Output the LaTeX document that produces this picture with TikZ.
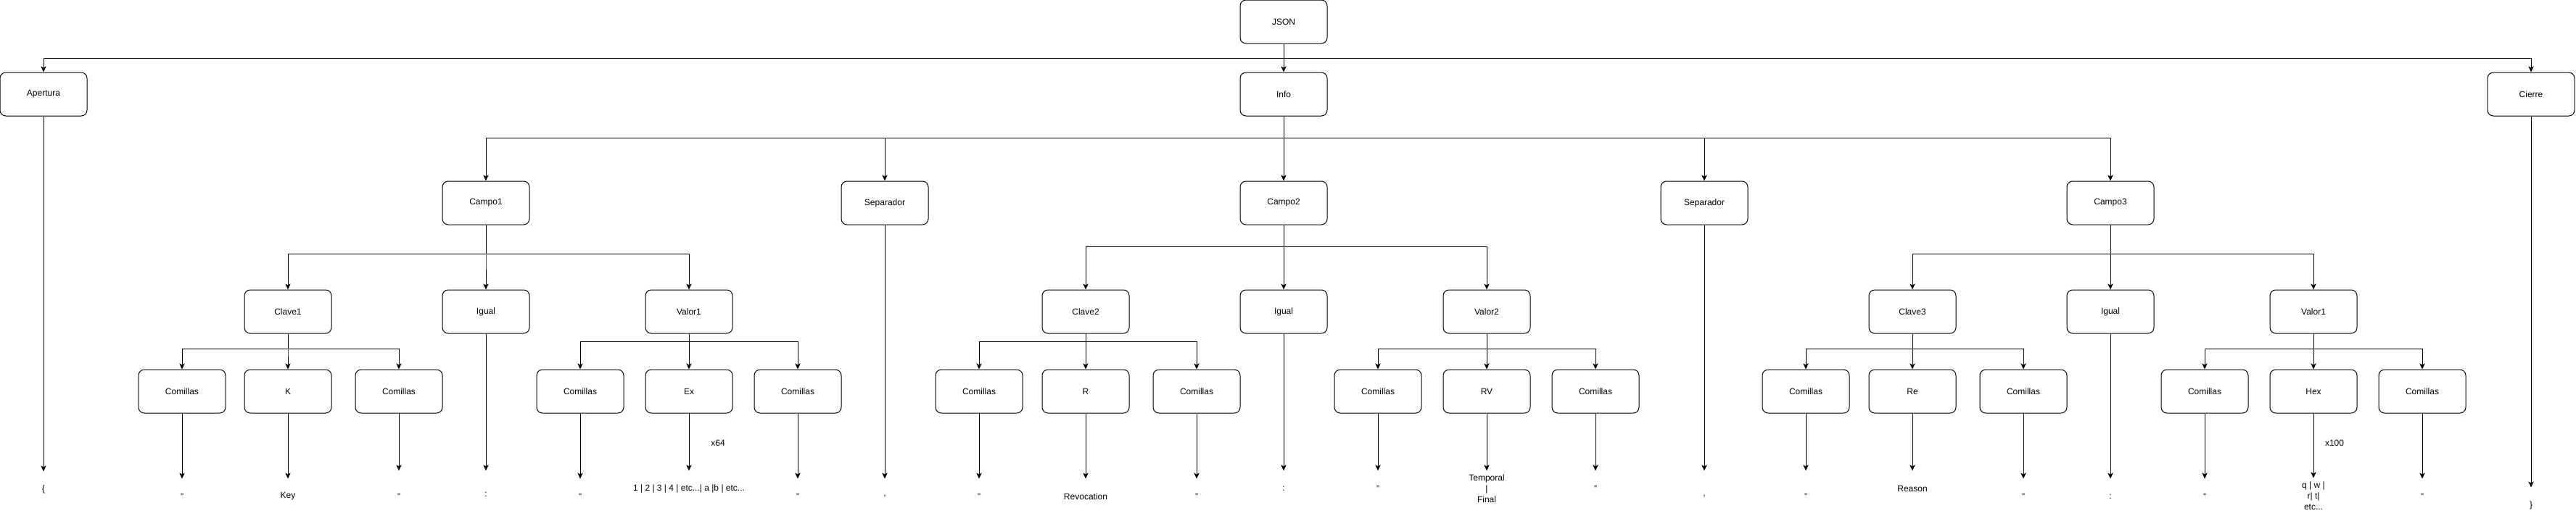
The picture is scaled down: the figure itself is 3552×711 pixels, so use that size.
\documentclass[tikz,border=0pt]{standalone}
\usepackage{fontspec}
\setmainfont{Liberation Sans}
\usetikzlibrary{arrows.meta}

\tikzset{every picture/.style={line width=0.75pt}}
\tikzset{
  caja/.style={draw, rounded corners=6pt, minimum width=90pt, minimum height=45pt, inner sep=0.75pt, font=\fontsize{9}{11.25}\selectfont},
  hoja/.style={minimum height=36pt, inner sep=0.75pt, align=center, font=\fontsize{9}{11.25}\selectfont},
  etiq/.style={inner sep=0.75pt, font=\fontsize{9}{11.25}\selectfont},
  flecha/.style={-{Stealth[length=6pt,width=5.5pt,inset=1.5pt]}},
  antes/.style={shorten >=#1},
}

\begin{document}
\begin{tikzpicture}[x=0.75pt,y=0.75pt,yscale=-1,xscale=1]
\useasboundingbox (0,0) rectangle (3552,711);

%Rounded Rect: raiz y primer nivel
\draw (1770,30) node [caja] (json) {JSON};
\draw (60,130) node [caja] (apertura) {Apertura};
\draw (1770,130) node [caja] (info) {Info};
\draw (3490,130) node [caja] (cierre) {Cierre};

%Rounded Rect: campos y separadores
\draw (670,280) node [caja] (campo1) {Campo1};
\draw (1220,280) node [caja] (sep1) {Separador};
\draw (1770,280) node [caja] (campo2) {Campo2};
\draw (2350,280) node [caja] (sep2) {Separador};
\draw (2910,280) node [caja] (campo3) {Campo3};

%Rounded Rect: clave, igual, valor
\draw (397,430) node [caja] (clave1) {Clave1};
\draw (670,430) node [caja] (igual1) {Igual};
\draw (950,430) node [caja] (valor1) {Valor1};
\draw (1497,430) node [caja] (clave2) {Clave2};
\draw (1770,430) node [caja] (igual2) {Igual};
\draw (2050,430) node [caja] (valor2) {Valor2};
\draw (2637,430) node [caja] (clave3) {Clave3};
\draw (2910,430) node [caja] (igual3) {Igual};
\draw (3190,430) node [caja] (valor3) {Valor1};

%Rounded Rect: ultimo nivel
\draw (251,540) node [caja] (c1a) {Comillas};
\draw (397,540) node [caja] (k1) {K};
\draw (550,540) node [caja] (c1b) {Comillas};
\draw (800,540) node [caja] (v1a) {Comillas};
\draw (950,540) node [caja] (ex1) {Ex};
\draw (1100,540) node [caja] (v1b) {Comillas};
\draw (1350,540) node [caja] (c2a) {Comillas};
\draw (1497,540) node [caja] (r2) {R};
\draw (1650,540) node [caja] (c2b) {Comillas};
\draw (1900,540) node [caja] (v2a) {Comillas};
\draw (2050,540) node [caja] (rv2) {RV};
\draw (2200,540) node [caja] (v2b) {Comillas};
\draw (2490,540) node [caja] (c3a) {Comillas};
\draw (2637,540) node [caja] (re3) {Re};
\draw (2790,540) node [caja] (c3b) {Comillas};
\draw (3040,540) node [caja] (v3a) {Comillas};
\draw (3190,540) node [caja] (hex3) {Hex};
\draw (3340,540) node [caja] (v3b) {Comillas};

% Text Node: hojas
\draw (60,675) node [hoja] (tap) {\{};
\draw (251,685) node [hoja] (tc1a) {"};
\draw (397,685) node [hoja] (tk1) {Key};
\draw (550,685) node [hoja] (tc1b) {"};
\draw (670,682) node [hoja] (tig1) {:};
\draw (800,685) node [hoja] (tv1a) {"};
\draw (950,674) node [hoja] (tex1) {1 | 2 | 3 | 4 | etc...| a |b | etc...};
\draw (1100,685) node [hoja] (tv1b) {"};
\draw (1220,685) node [hoja] (tsep1) {,};
\draw (1350,685) node [hoja] (tc2a) {"};
\draw (1497,685) node [hoja] (tr2) {Revocation};
\draw (1650,685) node [hoja] (tc2b) {"};
\draw (1770,674) node [hoja] (tig2) {:};
\draw (1900,674) node [hoja] (tv2a) {"};
\draw (2050,674) node [hoja] (trv2) {Temporal\\|\\Final};
\draw (2200,674) node [hoja] (tv2b) {"};
\draw (2350,685) node [hoja] (tsep2) {,};
\draw (2490,685) node [hoja] (tc3a) {"};
\draw (2637,674) node [hoja] (tre3) {Reason};
\draw (2790,685) node [hoja] (tc3b) {"};
\draw (2910,685) node [hoja] (tig3) {:};
\draw (3040,685) node [hoja] (tv3a) {"};
\draw (3190,684) node [hoja] (thex3) {q | w |\\r| t|\\etc...};
\draw (3340,685) node [hoja] (tv3b) {"};
\draw (3490,697) node [hoja] (tci) {\}};

% Text Node: repeticiones
\draw (990,611) node [etiq] (nx64) {x64};
\draw (3219,611) node [etiq] (nx100) {x100};

%Connectors: JSON
\draw [flecha] (json) -- ++(0,50) -| (apertura);
\draw [flecha] (json) -- ++(0,50) -| (info);
\draw [flecha] (json) -- ++(0,50) -| (cierre);

%Connectors: Info
\draw [flecha] (info) -- ++(0,60) -| (campo1);
\draw [flecha] (info) -- ++(0,60) -| (sep1);
\draw [flecha] (info) -- ++(0,60) -| (campo2);
\draw [flecha] (info) -- ++(0,60) -| (sep2);
\draw [flecha] (info) -- ++(0,60) -| (campo3);

%Connectors: campos
\draw [flecha] (campo1) -- ++(0,70) -| (clave1);
\draw [flecha] (campo1) -- ++(0,70) -| (igual1);
\draw [flecha] (campo1) -- ++(0,70) -| (valor1);
\draw [flecha] (campo2) -- ++(0,60) -| (clave2);
\draw [flecha] (campo2) -- ++(0,60) -| (igual2);
\draw [flecha] (campo2) -- ++(0,60) -| (valor2);
\draw [flecha] (campo3) -- ++(0,70) -| (clave3);
\draw [flecha] (campo3) -- ++(0,70) -| (igual3);
\draw [flecha] (campo3) -- ++(0,70) -| (valor3);

%Connectors: claves y valores
\draw [flecha] (clave1) -- ++(0,51) -| (c1a);
\draw [flecha] (clave1) -- ++(0,51) -| (k1);
\draw [flecha] (clave1) -- ++(0,51) -| (c1b);
\draw [flecha] (valor1) -- ++(0,41) -| (v1a);
\draw [flecha] (valor1) -- ++(0,41) -| (ex1);
\draw [flecha] (valor1) -- ++(0,41) -| (v1b);
\draw [flecha] (clave2) -- ++(0,41) -| (c2a);
\draw [flecha] (clave2) -- ++(0,41) -| (r2);
\draw [flecha] (clave2) -- ++(0,41) -| (c2b);
\draw [flecha] (valor2) -- ++(0,51) -| (v2a);
\draw [flecha] (valor2) -- ++(0,51) -| (rv2);
\draw [flecha] (valor2) -- ++(0,51) -| (v2b);
\draw [flecha] (clave3) -- ++(0,51) -| (c3a);
\draw [flecha] (clave3) -- ++(0,51) -| (re3);
\draw [flecha] (clave3) -- ++(0,51) -| (c3b);
\draw [flecha] (valor3) -- ++(0,51) -| (v3a);
\draw [flecha] (valor3) -- ++(0,51) -| (hex3);
\draw [flecha] (valor3) -- ++(0,51) -| (v3b);

%Connectors: hojas
\draw [flecha] (apertura) -- (tap);
\draw [flecha] (c1a) -- (tc1a);
\draw [flecha] (k1) -- (tk1);
\draw [flecha, antes=8.25pt] (c1b) -- (tc1b);
\draw [flecha, antes=6pt] (igual1) -- (tig1);
\draw [flecha] (v1a) -- (tv1a);
\draw [flecha] (ex1) -- (tex1);
\draw [flecha] (v1b) -- (tv1b);
\draw [flecha] (sep1) -- (tsep1);
\draw [flecha] (c2a) -- (tc2a);
\draw [flecha] (r2) -- (tr2);
\draw [flecha] (c2b) -- (tc2b);
\draw [flecha] (igual2) -- (tig2);
\draw [flecha] (v2a) -- (tv2a);
\draw [flecha] (rv2) -- (trv2);
\draw [flecha] (v2b) -- (tv2b);
\draw [flecha, antes=8.25pt] (sep2) -- (tsep2);
\draw [flecha, antes=8.25pt] (c3a) -- (tc3a);
\draw [flecha] (re3) -- (tre3);
\draw [flecha] (c3b) -- (tc3b);
\draw [flecha] (igual3) -- (tig3);
\draw [flecha] (v3a) -- (tv3a);
\draw [flecha] (hex3) -- (thex3);
\draw [flecha] (v3b) -- (tv3b);
\draw [flecha] (cierre) -- (tci);

\end{tikzpicture}
\end{document}
